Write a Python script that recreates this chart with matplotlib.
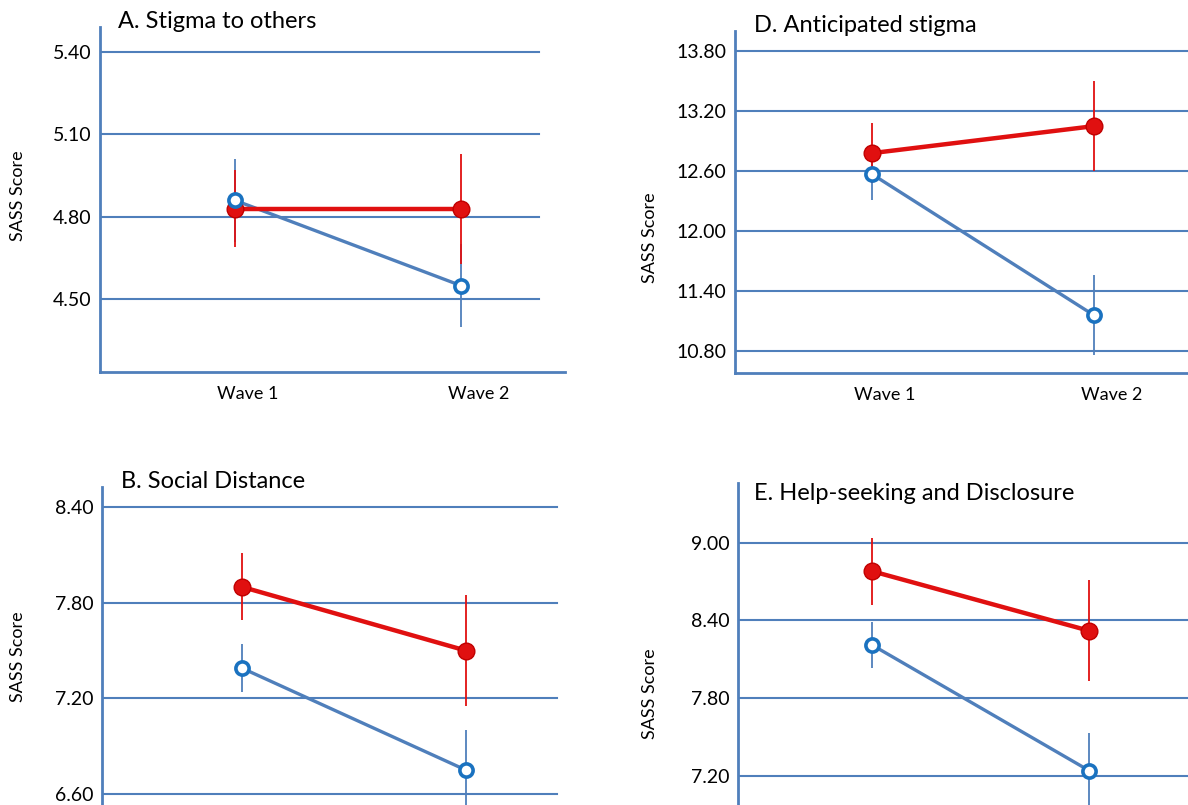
import matplotlib
matplotlib.use('Agg')
import matplotlib.pyplot as plt

plt.rcParams['font.family'] = ['Lato', 'DejaVu Sans']

# data
waves = ['Wave 1', 'Wave 2']

a_red = [4.83, 4.83]
a_red_err = [0.14, 0.20]
a_blue = [4.86, 4.55]
a_blue_err = [0.15, 0.15]
a_ticks = [4.50, 4.80, 5.10, 5.40]

d_red = [12.78, 13.05]
d_red_err = [0.30, 0.45]
d_blue = [12.57, 11.16]
d_blue_err = [0.26, 0.40]
d_ticks = [10.80, 11.40, 12.00, 12.60, 13.20, 13.80]

b_red = [7.90, 7.50]
b_red_err = [0.21, 0.35]
b_blue = [7.39, 6.75]
b_blue_err = [0.15, 0.25]
b_ticks = [6.60, 7.20, 7.80, 8.40]

e_red = [8.78, 8.32]
e_red_err = [0.26, 0.39]
e_blue = [8.21, 7.24]
e_blue_err = [0.18, 0.29]
e_ticks = [7.20, 7.80, 8.40, 9.00]

titles = ['A. Stigma to others', 'D. Anticipated stigma',
          'B. Social Distance', 'E. Help-seeking and Disclosure']

W, H = 1188, 805
axis_col = '#4f7fbb'
red = '#e01010'
blue_line = '#4f7fbb'
blue_mk = '#1a72c0'

fig = plt.figure(figsize=(W / 100, H / 100), dpi=100)


def px_rect(left, top, right, bottom):
    return [left / W, 1 - bottom / H, (right - left) / W, (bottom - top) / H]


def panel(rect, xlim, ylim, ticks, grid_end, red_y, red_e, blue_y, blue_e, show_x=True):
    ax = fig.add_axes(rect)
    ax.set_xlim(*xlim)
    ax.set_ylim(*ylim)
    for t in ticks:
        ax.axhline(t, xmin=0, xmax=grid_end, color=axis_col, lw=1.5, zorder=1)
    x = list(range(len(waves)))
    ax.errorbar(x, blue_y, yerr=blue_e, fmt='none', ecolor=blue_line, elinewidth=1.3, capsize=0, zorder=2)
    ax.errorbar(x, red_y, yerr=red_e, fmt='none', ecolor=red, elinewidth=1.3, capsize=0, zorder=3)
    ax.plot(x, blue_y, color=blue_line, lw=2.4, zorder=4)
    ax.plot(x, red_y, color=red, lw=3.2, zorder=5)
    ax.plot(x, red_y, 'o', color=red, mec='#c00000', ms=12, zorder=6)
    ax.plot(x, blue_y, 'o', color='white', mec=blue_mk, ms=9.5, mew=2.6, zorder=7)
    ax.set_yticks(ticks)
    ax.set_yticklabels([f'{t:.2f}' for t in ticks], fontsize=14)
    ax.set_xticks([i + s for i, s in zip(x, [0.055, 0.08])])
    ax.set_xticklabels(waves if show_x else [], fontsize=13)
    ax.tick_params(axis='y', length=0, pad=6)
    ax.tick_params(axis='x', length=0, pad=10)
    for s in ['top', 'right']:
        ax.spines[s].set_visible(False)
    for s in ['left', 'bottom']:
        ax.spines[s].set_color(axis_col)
        ax.spines[s].set_linewidth(2)
    if not show_x:
        ax.spines['bottom'].set_visible(False)
    ax.patch.set_alpha(0)
    return ax


panel(px_rect(100, 27, 565, 372), (-0.597, 1.46), (4.236, 5.49), a_ticks, 0.944,
      a_red, a_red_err, a_blue, a_blue_err)
panel(px_rect(735, 31, 1188, 373), (-0.617, 1.423), (10.584, 14.0), d_ticks, 1.0,
      d_red, d_red_err, d_blue, d_blue_err)
panel(px_rect(102, 487, 565, 805), (-0.625, 1.442), (6.531, 8.527), b_ticks, 0.983,
      b_red, b_red_err, b_blue, b_blue_err, show_x=False)
panel(px_rect(738, 483, 1188, 805), (-0.6175, 1.456), (6.974, 9.461), e_ticks, 1.0,
      e_red, e_red_err, e_blue, e_blue_err, show_x=False)

# titles and y labels
title_pos = [(118, 22), (754, 26), (121, 481), (754, 493)]
for t, (px, py) in zip(titles, title_pos):
    fig.text(px / W, 1 - py / H, t, fontsize=17, ha='left', va='center')

ylab_pos = [(18, 196), (650, 238), (18, 657), (650, 694)]
for px, py in ylab_pos:
    fig.text(px / W, 1 - py / H, 'SASS Score', fontsize=13, rotation=90,
             ha='center', va='center')

fig.savefig('out.png', dpi=100)
